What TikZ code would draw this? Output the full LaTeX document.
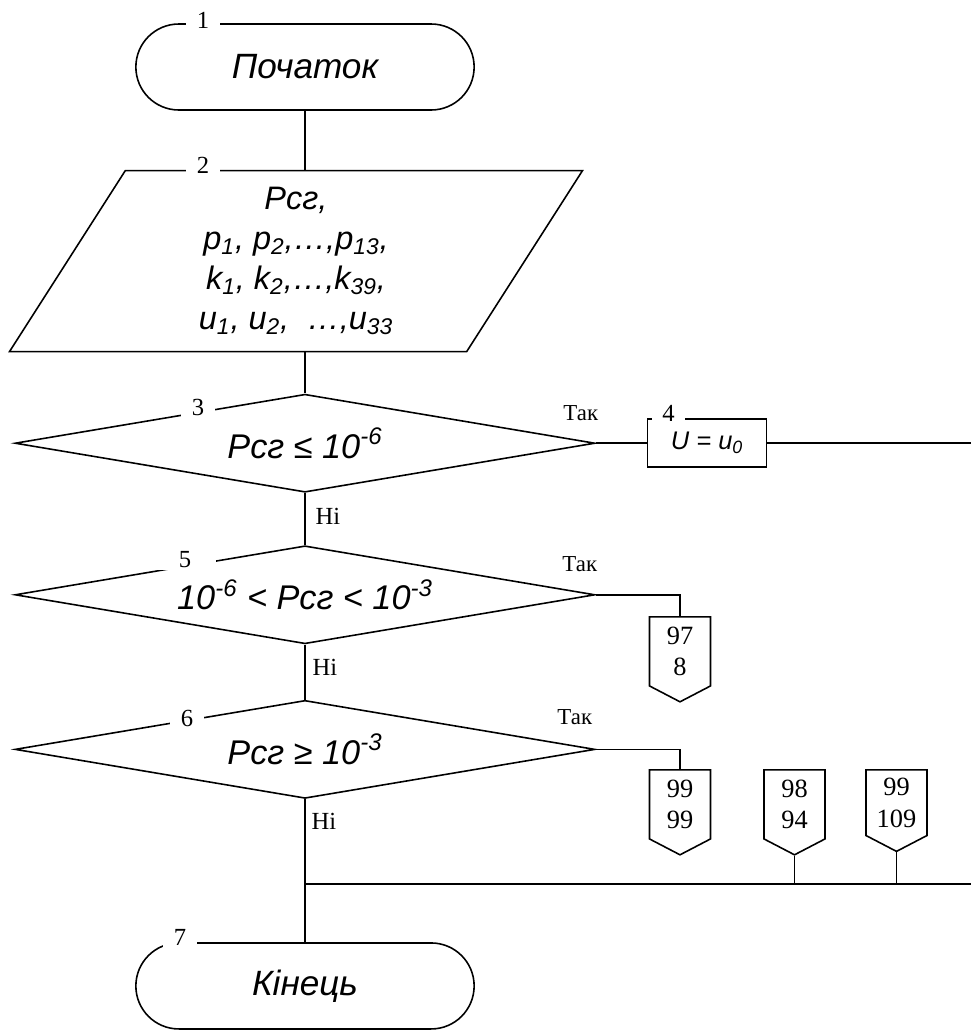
\documentclass[tikz,border=0pt]{standalone}
\usepackage{fontspec}
\setmainfont{Liberation Serif}
\newfontfamily\arial{Liberation Sans}
\usetikzlibrary{shapes.geometric, shapes.misc, shapes.symbols, positioning, calc}

\begin{document}
\begin{tikzpicture}[
    line width=0.9pt,
    node distance=1.04cm,
    terminal/.style={rounded rectangle, draw, minimum width=7cm, minimum height=1.72cm,
                     font=\arial\itshape\fontsize{20pt}{24pt}\selectfont},
    iobox/.style={trapezium, trapezium left angle=54, trapezium right angle=126,
                  trapezium stretches body, draw, minimum width=11.46cm, minimum height=3.62cm,
                  align=center, font=\arial\itshape\fontsize{18.5pt}{22.7pt}\selectfont},
    decision/.style={diamond, draw, aspect=5.9, minimum width=11.6cm, minimum height=1.96cm,
                     inner sep=0pt, font=\arial\itshape\fontsize{19.5pt}{23pt}\selectfont},
    procbox/.style={rectangle, draw, minimum width=2.38cm, minimum height=0.96cm,
                    font=\arial\itshape\fontsize{14.5pt}{17pt}\selectfont},
    offpage/.style={signal, signal to=south, signal pointer angle=125, draw,
                    minimum width=1.22cm, minimum height=1.52cm, inner sep=0pt, align=center,
                    font=\fontsize{15pt}{18pt}\selectfont},
    numlbl/.style={fill=white, inner xsep=6pt, inner ysep=1pt, font=\fontsize{14pt}{16pt}\selectfont},
    yeslbl/.style={font=\fontsize{13pt}{15pt}\selectfont},
    nolbl/.style={font=\fontsize{14pt}{16pt}\selectfont},
]
\useasboundingbox (0,0) rectangle (19.42,-20.6);

%% Main column
\node[terminal] (start) at (6.1,-1.34) {Початок};
\node[iobox, below=1.18cm of start, xshift=-0.18cm] (input)
    {Рсг,\\
     p\textsubscript{1}, p\textsubscript{2},…,p\textsubscript{13},\\
     k\textsubscript{1}, k\textsubscript{2},…,k\textsubscript{39},\\
     u\textsubscript{1}, u\textsubscript{2}, \ …,u\textsubscript{33}};
\node[decision, below=0.82cm of input, xshift=0.18cm] (dec1) {Рсг ≤ 10\textsuperscript{-6}};
\node[decision, below=of dec1] (dec2) {10\textsuperscript{-6} < Рсг < 10\textsuperscript{-3}};
\node[decision, below=1.1cm of dec2] (dec3) {Рсг ≥ 10\textsuperscript{-3}};
\node[terminal, below=2.86cm of dec3] (stop) {Кінець};

%% Side nodes
\node[procbox, right=1.02cm of dec1] (assign) {U = u\textsubscript{0}};
\node[offpage, anchor=north] (c978) at (13.6,-12.32) {97\\8};
\node[offpage, anchor=north] (c9999) at (13.6,-15.38) {99\\99};
\node[offpage, anchor=north] (c9894) at (15.89,-15.38) {98\\94};
\node[offpage, anchor=north] (c99109) at (17.93,-15.38) {99\\109};

%% Lines
\draw (start) -- (start |- input.north);
\draw (start |- input.south) -- (dec1);
\foreach \from/\to in {dec1/dec2, dec2/dec3, dec3/stop}
    \draw (\from) -- (\to);
\draw (dec1.east) -- (assign.west);
\coordinate (rim) at (19.42,-17.68);
\coordinate (bus) at (dec3.south |- rim);
\draw (assign.east) -- (assign.east -| rim);
\draw (dec2.east) -| (c978.north);
\draw (dec3.east) -| (c9999.north);
\draw (bus) -- (rim);
\foreach \c in {c9894, c99109}
    \draw (\c.south) -- (\c.south |- rim);

%% Block numbers
\node[numlbl] (n1) at ($(start.north)+(-2.04,0.06)$) {1};
\node[numlbl] (n2) at ($(input.north)+(-1.86,0.08)$) {2};
\node[numlbl] (n3) at ($(dec1)+(-2.14,0.72)$) {3};
\node[numlbl] (n4) at ($(assign)+(-0.77,0.6)$) {4};
\node[numlbl, inner xsep=14pt] (n5) at ($(dec2)+(-2.4,0.7)$) {5};
\node[numlbl] (n6) at ($(dec3)+(-2.36,0.62)$) {6};
\node[numlbl] (n7) at ($(stop.north)+(-2.5,0.1)$) {7};

%% Branch labels
\node[yeslbl] (yes1) at ($(dec1.east)+(-0.3,0.6)$) {Так};
\node[yeslbl] (yes2) at ($(dec2.east)+(-0.32,0.62)$) {Так};
\node[yeslbl] (yes3) at ($(dec3.east)+(-0.42,0.64)$) {Так};
\node[nolbl] (no1) at ($(dec1.south)+(0.46,-0.46)$) {Ні};
\node[nolbl] (no2) at ($(dec2.south)+(0.4,-0.46)$) {Ні};
\node[nolbl] (no3) at ($(dec3.south)+(0.38,-0.44)$) {Ні};

\end{tikzpicture}
\end{document}
